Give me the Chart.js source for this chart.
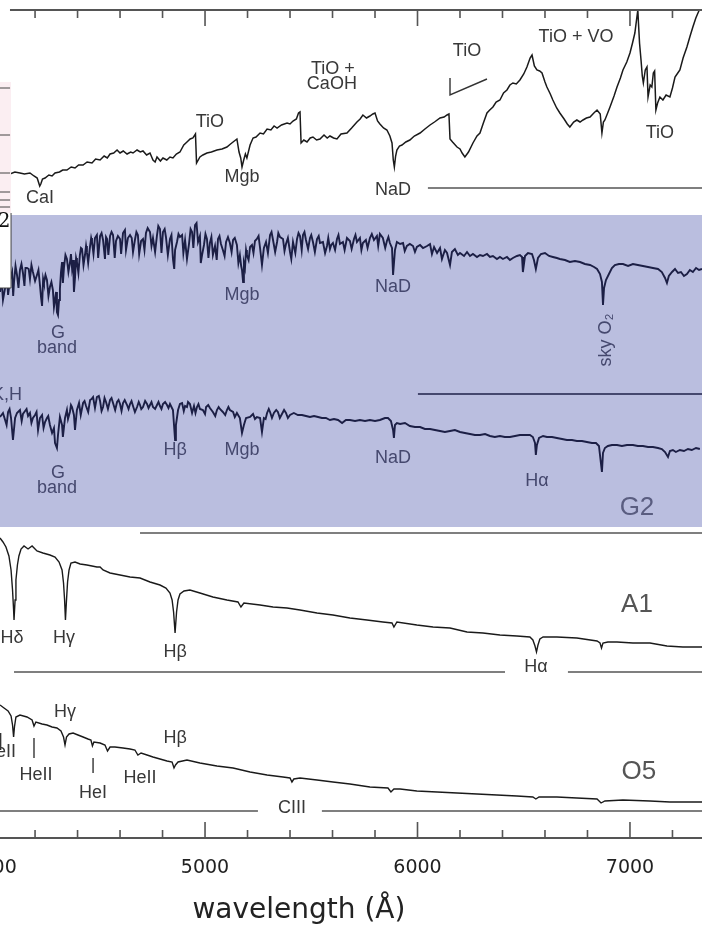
<!DOCTYPE html>
<html>
<head>
<meta charset="utf-8">
<script src="https://cdn.jsdelivr.net/npm/chart.js@4.4.1/dist/chart.umd.min.js"></script>
<style>
  html, body { margin: 0; padding: 0; background: #fff; }
  #wrap { width: 702px; height: 930px; position: relative; }
</style>
</head>
<body>
<div id="wrap"><canvas id="spectra"></canvas></div>
<script>
// wavelength range shown (Angstrom) and offset-flux range
var waveMin = 4035;
var waveMax = 7339;
var fluxMin = 0;
var fluxMax = 82.8;

var majorTicks = [4000, 5000, 6000, 7000];
var minorTicks = [4200, 4400, 4600, 4800, 5200, 5400, 5600, 5800, 6200, 6400, 6600, 6800, 7200];

// spectra: [wavelength, offset flux]
var mStar = [[4035,66.5],[4060,66.6],[4082,66.4],[4105,66.6],[4129,66.5],[4150,66.4],[4176,66.5],[4195,66.2],[4210,66.0],[4222,65.2],[4227,65.4],[4235,65.9],[4247,66.0],[4265,66.3],[4280,66.2],[4294,66.5],[4315,66.6],[4330,66.8],[4350,66.8],[4370,67.1],[4388,67.0],[4405,67.3],[4426,67.3],[4445,67.6],[4468,67.5],[4485,67.9],[4506,67.8],[4525,68.2],[4540,68.0],[4553,68.4],[4570,68.5],[4586,68.8],[4600,68.5],[4615,68.7],[4633,68.4],[4650,68.6],[4661,68.5],[4680,68.8],[4695,68.6],[4708,68.7],[4725,68.3],[4741,68.5],[4755,67.8],[4765,67.6],[4774,68.1],[4790,67.7],[4802,68.0],[4820,67.8],[4835,68.1],[4849,68.0],[4865,68.4],[4882,68.6],[4900,69.3],[4915,69.6],[4930,69.9],[4943,70.0],[4955,70.4],[4960,67.5],[4976,68.1],[4990,68.3],[5009,68.5],[5030,68.6],[5056,68.8],[5080,68.9],[5103,69.1],[5120,69.4],[5132,69.6],[5150,69.9],[5160,68.6],[5168,68.0],[5174,67.1],[5182,67.8],[5190,68.4],[5197,68.0],[5212,69.3],[5226,70.0],[5240,70.1],[5259,70.5],[5275,70.4],[5292,70.9],[5310,70.8],[5325,71.2],[5339,71.0],[5360,71.3],[5386,71.5],[5400,71.4],[5414,71.7],[5430,71.9],[5440,72.5],[5447,72.6],[5452,69.5],[5465,69.8],[5480,69.6],[5495,70.0],[5508,70.1],[5525,69.8],[5541,69.9],[5560,70.3],[5575,70.0],[5588,70.2],[5605,70.0],[5621,69.9],[5640,70.4],[5668,70.5],[5690,71.0],[5715,71.6],[5730,71.9],[5743,72.3],[5760,72.0],[5776,72.2],[5790,72.4],[5800,72.5],[5812,71.7],[5823,71.4],[5840,71.0],[5856,70.8],[5870,70.2],[5880,69.5],[5886,67.8],[5891,67.1],[5897,68.2],[5903,68.8],[5915,69.2],[5927,69.3],[5945,69.6],[5964,69.8],[5985,70.2],[6012,70.5],[6035,70.9],[6059,71.3],[6080,71.6],[6106,72.0],[6125,72.1],[6139,72.3],[6148,72.4],[6153,69.9],[6165,69.6],[6186,69.1],[6200,68.9],[6210,68.5],[6223,68.1],[6240,68.6],[6261,69.5],[6280,70.2],[6294,70.5],[6310,71.5],[6327,72.5],[6340,72.8],[6355,73.1],[6370,73.6],[6388,73.8],[6405,74.5],[6421,74.8],[6435,75.3],[6449,75.5],[6465,75.4],[6482,75.8],[6500,76.4],[6515,77.1],[6530,78.0],[6539,78.3],[6550,77.2],[6562,76.8],[6575,76.7],[6586,76.5],[6600,75.6],[6609,75.1],[6625,74.4],[6637,73.8],[6655,73.0],[6670,72.5],[6690,71.9],[6705,71.4],[6717,71.1],[6735,71.6],[6750,71.8],[6765,71.6],[6779,71.8],[6795,72.0],[6812,72.1],[6830,72.5],[6845,72.8],[6860,72.4],[6868,70.5],[6875,71.6],[6882,71.8],[6895,72.5],[6906,73.1],[6925,74.2],[6939,75.1],[6955,76.0],[6967,76.8],[6985,77.6],[7000,78.5],[7012,79.5],[7023,80.5],[7032,82.0],[7037,82.8],[7040,81.5],[7045,79.5],[7052,77.8],[7058,76.2],[7063,75.5],[7072,76.8],[7080,77.1],[7085,74.1],[7095,75.3],[7103,75.1],[7110,76.5],[7116,76.7],[7122,72.8],[7130,73.5],[7141,74.1],[7155,73.8],[7170,74.3],[7188,74.1],[7200,75.0],[7212,76.1],[7225,76.5],[7235,76.8],[7250,78.0],[7268,79.1],[7283,80.2],[7296,81.1],[7310,82.0],[7320,82.5],[7339,83.4]];

var kStar = [[4035,54.6],[4042,56.0],[4049,53.8],[4059,55.0],[4066,56.8],[4073,54.3],[4082,55.8],[4092,56.6],[4097,54.2],[4101,55.6],[4108,57.2],[4115,56.3],[4122,55.0],[4129,56.8],[4136,57.4],[4143,56.5],[4150,55.2],[4155,57.0],[4162,57.0],[4170,56.9],[4176,55.9],[4183,57.3],[4190,56.6],[4200,55.7],[4209,56.3],[4216,56.8],[4223,55.3],[4228,54.1],[4233,53.2],[4238,55.9],[4242,55.5],[4249,56.3],[4256,55.8],[4263,54.2],[4270,55.1],[4277,55.6],[4284,54.8],[4289,53.1],[4294,53.8],[4299,54.6],[4303,52.6],[4308,52.3],[4313,53.8],[4317,54.9],[4322,56.6],[4327,57.6],[4331,55.5],[4336,57.0],[4343,58.3],[4350,57.9],[4357,56.6],[4364,57.5],[4369,58.4],[4374,57.0],[4379,57.8],[4383,54.6],[4388,56.0],[4393,58.0],[4397,57.6],[4404,56.5],[4411,58.3],[4416,59.0],[4421,58.9],[4428,57.3],[4435,58.3],[4440,59.2],[4444,58.6],[4450,57.5],[4459,59.2],[4464,60.0],[4468,59.6],[4475,58.4],[4482,60.0],[4491,60.3],[4497,58.0],[4506,60.2],[4513,60.5],[4520,59.8],[4529,57.9],[4534,60.1],[4539,59.9],[4545,58.3],[4553,60.2],[4560,60.6],[4567,60.3],[4575,58.0],[4581,59.7],[4590,60.2],[4600,59.9],[4605,58.4],[4614,60.5],[4623,60.8],[4628,58.8],[4637,60.0],[4647,60.3],[4655,60.0],[4661,58.6],[4670,59.8],[4677,60.6],[4684,60.3],[4690,58.4],[4699,59.7],[4708,59.9],[4715,58.8],[4722,60.5],[4730,61.0],[4741,60.6],[4748,59.2],[4755,60.0],[4765,58.6],[4774,60.3],[4780,61.2],[4788,60.9],[4795,58.5],[4802,60.6],[4810,60.9],[4816,60.1],[4825,58.3],[4835,59.9],[4842,60.3],[4849,57.9],[4855,56.9],[4859,58.8],[4868,59.6],[4875,60.4],[4882,60.1],[4892,60.3],[4898,58.5],[4906,59.8],[4915,57.9],[4924,59.3],[4932,60.9],[4939,60.6],[4945,59.0],[4953,61.3],[4960,61.5],[4967,59.6],[4976,60.2],[4980,57.5],[4986,58.3],[4995,59.3],[5002,60.4],[5009,59.9],[5016,58.0],[5023,59.5],[5030,60.1],[5037,58.3],[5047,59.2],[5055,57.8],[5061,59.9],[5068,60.2],[5075,59.4],[5084,58.8],[5092,58.2],[5099,59.6],[5108,60.1],[5117,59.5],[5125,58.6],[5132,59.8],[5140,60.0],[5150,59.3],[5157,57.5],[5164,58.3],[5170,57.2],[5174,56.8],[5179,55.6],[5183,57.5],[5188,57.0],[5193,58.8],[5197,58.3],[5205,57.8],[5212,59.1],[5221,59.3],[5228,58.5],[5235,59.7],[5244,59.9],[5252,60.2],[5259,59.0],[5268,57.3],[5277,59.0],[5287,59.6],[5296,58.5],[5306,60.3],[5313,60.6],[5320,59.8],[5330,58.6],[5339,59.6],[5345,60.5],[5353,60.1],[5367,59.9],[5374,58.7],[5381,59.4],[5390,60.0],[5400,58.6],[5406,57.9],[5414,59.6],[5425,58.5],[5433,59.9],[5440,60.5],[5447,60.2],[5455,58.8],[5461,60.3],[5468,60.6],[5475,59.8],[5485,58.9],[5494,60.0],[5500,60.3],[5508,59.6],[5517,58.6],[5527,59.9],[5535,60.2],[5541,59.5],[5555,59.6],[5565,58.5],[5574,59.2],[5580,60.0],[5588,58.9],[5594,59.3],[5602,59.5],[5612,58.8],[5621,59.9],[5628,60.3],[5635,59.4],[5649,59.6],[5657,58.8],[5668,60.0],[5682,59.7],[5690,58.9],[5701,59.9],[5708,60.3],[5715,59.6],[5729,60.0],[5736,58.8],[5743,59.5],[5757,59.8],[5765,59.0],[5776,60.0],[5785,60.4],[5795,59.8],[5809,60.2],[5815,59.2],[5823,60.4],[5837,60.0],[5848,59.0],[5856,59.7],[5863,60.1],[5870,59.5],[5880,59.0],[5885,56.3],[5894,58.8],[5903,59.6],[5918,59.4],[5932,59.5],[5940,58.7],[5950,59.2],[5964,59.4],[5979,59.2],[5988,58.6],[5997,59.1],[6012,59.3],[6026,59.0],[6045,59.2],[6059,59.4],[6068,58.4],[6078,59.1],[6092,58.5],[6106,59.0],[6115,57.9],[6129,58.8],[6139,58.5],[6153,57.3],[6162,58.6],[6176,58.9],[6190,58.3],[6200,58.5],[6219,58.2],[6233,58.6],[6247,58.2],[6261,58.4],[6280,58.1],[6294,58.3],[6308,58.2],[6327,58.4],[6341,58.1],[6355,58.2],[6374,57.9],[6388,58.1],[6402,57.9],[6421,58.1],[6435,57.8],[6449,58.0],[6468,58.2],[6482,58.3],[6492,58.1],[6496,56.6],[6506,58.2],[6520,58.5],[6539,58.4],[6548,57.8],[6557,56.9],[6567,58.0],[6581,58.4],[6600,58.5],[6619,58.2],[6637,58.1],[6656,58.0],[6670,57.9],[6694,57.8],[6717,57.6],[6741,57.7],[6765,57.6],[6788,57.4],[6812,57.3],[6831,57.1],[6845,56.9],[6859,56.4],[6868,55.6],[6873,53.3],[6878,55.0],[6887,55.8],[6901,56.4],[6915,57.0],[6929,57.3],[6948,57.4],[6967,57.4],[6991,57.2],[7014,57.4],[7037,57.3],[7061,57.2],[7085,57.1],[7108,57.0],[7132,56.9],[7150,56.6],[7165,56.0],[7174,55.5],[7183,56.2],[7198,56.6],[7212,56.9],[7226,56.5],[7240,56.6],[7254,56.2],[7268,56.4],[7282,56.8],[7296,56.6],[7311,57.0],[7325,56.8],[7339,56.9]];

var g2Star = [[4035,42.1],[4049,42.5],[4059,41.8],[4066,41.3],[4073,42.6],[4080,42.9],[4087,42.0],[4096,39.8],[4106,42.0],[4115,42.5],[4129,42.8],[4137,41.7],[4143,42.4],[4153,42.7],[4160,42.9],[4167,42.2],[4176,42.5],[4183,41.5],[4190,42.0],[4200,42.3],[4207,42.6],[4214,40.8],[4223,42.0],[4233,42.3],[4240,41.0],[4247,41.6],[4256,42.0],[4262,42.2],[4270,41.3],[4280,40.5],[4289,41.0],[4294,39.5],[4303,39.0],[4308,40.3],[4317,42.1],[4327,41.3],[4331,40.1],[4341,42.0],[4350,42.8],[4355,41.9],[4364,42.6],[4369,43.3],[4374,43.1],[4383,42.3],[4388,40.8],[4397,42.8],[4407,43.5],[4415,42.3],[4426,43.5],[4433,43.7],[4440,43.2],[4450,42.6],[4459,43.8],[4466,43.9],[4473,44.1],[4482,43.0],[4491,44.1],[4500,44.2],[4506,43.7],[4513,42.7],[4520,43.1],[4527,44.0],[4534,43.6],[4543,42.9],[4553,43.8],[4560,44.0],[4567,43.5],[4577,42.8],[4586,43.6],[4593,43.8],[4600,43.4],[4607,42.7],[4614,43.5],[4622,43.8],[4633,43.3],[4640,42.9],[4647,43.4],[4654,43.7],[4661,43.2],[4670,42.6],[4680,43.1],[4688,43.6],[4694,43.3],[4700,42.9],[4708,43.1],[4718,43.7],[4727,43.4],[4734,43.0],[4741,43.3],[4748,43.6],[4755,43.1],[4765,42.9],[4774,43.3],[4781,43.6],[4788,43.2],[4795,42.9],[4802,43.4],[4812,43.6],[4821,43.3],[4828,43.0],[4835,43.4],[4849,42.8],[4859,39.8],[4863,41.3],[4873,42.8],[4882,43.4],[4892,43.5],[4900,42.7],[4906,43.2],[4915,43.1],[4920,43.6],[4929,43.4],[4939,42.5],[4948,43.2],[4955,42.5],[4962,43.1],[4969,43.4],[4976,42.9],[4990,42.8],[5000,42.4],[5005,43.1],[5015,43.3],[5023,43.0],[5037,42.6],[5048,42.2],[5056,42.8],[5064,43.1],[5070,42.9],[5084,42.6],[5095,42.3],[5103,42.8],[5110,43.1],[5117,42.8],[5132,42.6],[5140,42.1],[5150,42.5],[5164,42.0],[5174,40.5],[5183,41.3],[5193,42.0],[5212,42.1],[5226,42.4],[5235,41.9],[5244,42.1],[5259,42.0],[5268,40.6],[5277,42.0],[5285,41.9],[5292,42.5],[5300,42.9],[5306,42.6],[5315,42.0],[5324,42.5],[5335,42.8],[5343,42.6],[5352,42.0],[5362,42.4],[5372,42.8],[5381,42.5],[5390,42.0],[5400,42.3],[5418,42.5],[5437,42.3],[5456,42.3],[5475,42.2],[5494,42.1],[5513,42.2],[5532,42.1],[5550,42.0],[5569,42.0],[5588,41.8],[5607,41.9],[5626,41.8],[5645,41.5],[5663,41.8],[5682,41.8],[5706,41.7],[5729,41.8],[5753,41.7],[5776,41.8],[5800,41.7],[5823,41.8],[5847,42.0],[5861,42.0],[5875,41.7],[5885,40.8],[5889,40.0],[5894,41.3],[5903,41.5],[5918,41.4],[5941,41.5],[5964,41.2],[5988,41.1],[6012,41.1],[6035,40.9],[6059,40.9],[6082,40.8],[6106,40.7],[6129,40.6],[6153,40.7],[6176,40.8],[6200,40.6],[6223,40.5],[6247,40.4],[6270,40.3],[6294,40.3],[6318,40.4],[6341,40.2],[6364,40.1],[6388,40.2],[6411,40.1],[6435,40.1],[6459,40.2],[6482,40.3],[6506,40.3],[6529,40.3],[6543,40.1],[6553,39.5],[6557,38.3],[6562,39.3],[6572,40.0],[6591,40.2],[6609,40.1],[6633,40.1],[6656,40.0],[6680,39.9],[6703,39.8],[6727,39.8],[6750,39.7],[6774,39.7],[6797,39.6],[6821,39.5],[6840,39.5],[6854,39.2],[6868,36.6],[6873,38.5],[6882,39.0],[6896,39.2],[6915,39.3],[6939,39.3],[6962,39.2],[6986,39.3],[7014,39.3],[7037,39.2],[7061,39.2],[7085,39.1],[7108,39.1],[7132,39.0],[7150,38.9],[7165,38.6],[7179,38.1],[7188,38.7],[7202,38.8],[7216,38.6],[7235,38.8],[7254,38.7],[7273,38.9],[7291,38.8],[7311,39.0],[7329,38.9]];

var a1Star = [[4035,30.0],[4049,29.6],[4063,29.1],[4077,28.2],[4087,26.8],[4094,24.8],[4099,22.8],[4101,21.8],[4106,23.8],[4110,25.8],[4117,27.3],[4124,28.2],[4134,28.9],[4148,29.2],[4167,28.9],[4186,29.2],[4209,28.7],[4237,28.5],[4270,28.3],[4294,28.1],[4313,27.6],[4327,26.8],[4334,25.5],[4339,23.8],[4343,21.8],[4348,23.8],[4353,25.6],[4360,26.8],[4369,27.5],[4388,27.6],[4412,27.4],[4444,27.3],[4468,27.2],[4491,27.1],[4506,27.1],[4520,26.8],[4553,26.5],[4600,26.3],[4647,26.1],[4694,26.0],[4741,25.6],[4788,25.3],[4816,25.0],[4835,24.5],[4845,23.8],[4852,22.6],[4859,20.5],[4866,22.6],[4873,23.8],[4882,24.4],[4901,24.7],[4929,24.8],[4976,24.5],[5037,24.1],[5103,23.8],[5155,23.6],[5169,23.1],[5183,23.5],[5259,23.3],[5320,23.1],[5386,23.0],[5447,22.8],[5527,22.5],[5602,22.3],[5682,22.0],[5762,21.8],[5837,21.6],[5880,21.5],[5889,21.1],[5903,21.6],[5997,21.3],[6073,21.1],[6153,21.0],[6233,20.6],[6308,20.5],[6388,20.3],[6468,20.2],[6529,20.1],[6543,19.8],[6553,19.2],[6560,18.6],[6567,19.3],[6576,19.9],[6591,20.1],[6656,20.1],[6750,20.0],[6845,19.7],[6859,19.5],[6866,19.0],[6873,19.5],[6896,19.6],[6939,19.6],[7014,19.5],[7094,19.5],[7174,19.2],[7249,19.1],[7339,19.1]];

var o5Star = [[4035,13.3],[4054,13.0],[4073,12.7],[4087,12.2],[4094,11.3],[4099,10.1],[4103,11.1],[4110,12.1],[4129,12.3],[4162,12.1],[4186,11.8],[4195,11.2],[4204,11.6],[4233,11.4],[4256,11.3],[4280,11.1],[4303,11.0],[4322,10.7],[4334,10.1],[4341,9.3],[4348,10.1],[4360,10.4],[4379,10.5],[4402,10.3],[4426,10.1],[4449,9.9],[4463,9.8],[4470,9.2],[4477,9.6],[4506,9.5],[4529,9.3],[4541,8.7],[4553,9.1],[4576,9.1],[4614,9.0],[4647,8.9],[4670,8.8],[4684,8.3],[4699,8.5],[4727,8.3],[4755,8.1],[4788,7.9],[4821,7.7],[4845,7.6],[4854,7.0],[4861,7.3],[4873,7.6],[4915,7.8],[4976,7.5],[5056,7.2],[5132,7.0],[5212,6.6],[5292,6.3],[5367,6.1],[5400,6.0],[5409,5.6],[5418,5.9],[5447,6.0],[5527,5.8],[5602,5.6],[5682,5.4],[5776,5.1],[5861,5.0],[5875,4.6],[5889,4.9],[5918,4.9],[5997,4.7],[6092,4.6],[6186,4.5],[6280,4.4],[6374,4.3],[6468,4.2],[6543,4.1],[6557,3.9],[6572,4.1],[6656,4.1],[6750,4.0],[6845,3.9],[6864,3.5],[6882,3.7],[6967,3.8],[7094,3.7],[7188,3.6],[7339,3.6]];

// shaded panel behind the two solar-type spectra
var bandTop = 62.3;
var bandBottom = 31.1;

// zero lines under each spectrum
var baselines = [
  { from: 6049, to: 7339, flux: 65.0, inBand: false },
  { from: 6002, to: 7339, flux: 44.4, inBand: true },
  { from: 4694, to: 7339, flux: 30.5, inBand: false },
  { from: 4101, to: 6412, flux: 16.6, inBand: false },
  { from: 6708, to: 7339, flux: 16.6, inBand: false },
  { from: 4035, to: 5249, flux: 2.7, inBand: false },
  { from: 5550, to: 7339, flux: 2.7, inBand: false }
];

// little marker strokes
var markers = [
  [[6153, 76.0], [6153, 74.3], [6327, 75.9]],
  [[4038, 10.5], [4038, 8.8]],
  [[4195, 10.0], [4195, 8.0]],
  [[4473, 8.0], [4473, 6.5]]
];

var featureLabels = [
  { text: 'CaI', wave: 4223, flux: 64.0 },
  { text: 'TiO', wave: 5023, flux: 71.6 },
  { text: 'Mgb', wave: 5174, flux: 66.1 },
  { text: 'TiO +', wave: 5602, flux: 76.9 },
  { text: 'CaOH', wave: 5597, flux: 75.4 },
  { text: 'NaD', wave: 5885, flux: 64.8 },
  { text: 'TiO', wave: 6233, flux: 78.7 },
  { text: 'TiO + VO', wave: 6746, flux: 80.1 },
  { text: 'TiO', wave: 7141, flux: 70.5 },
  { text: 'G', wave: 4308, flux: 50.5, inBand: true },
  { text: 'band', wave: 4303, flux: 49.0, inBand: true },
  { text: 'Mgb', wave: 5174, flux: 54.3, inBand: true },
  { text: 'NaD', wave: 5885, flux: 55.1, inBand: true },
  { text: 'K,H', wave: 4139, flux: 44.3, inBand: true, align: 'right' },
  { text: 'G', wave: 4308, flux: 36.5, inBand: true },
  { text: 'band', wave: 4303, flux: 35.0, inBand: true },
  { text: 'H\u03b2', wave: 4859, flux: 38.8, inBand: true },
  { text: 'Mgb', wave: 5174, flux: 38.8, inBand: true },
  { text: 'NaD', wave: 5885, flux: 38.0, inBand: true },
  { text: 'H\u03b1', wave: 6562, flux: 35.7, inBand: true },
  { text: 'H\u03b4', wave: 4092, flux: 20.0 },
  { text: 'H\u03b3', wave: 4336, flux: 20.0 },
  { text: 'H\u03b2', wave: 4859, flux: 18.6 },
  { text: 'H\u03b1', wave: 6557, flux: 17.1 },
  { text: 'H\u03b3', wave: 4341, flux: 12.6 },
  { text: 'H\u03b2', wave: 4859, flux: 10.0 },
  { text: 'HeII', wave: 4110, flux: 8.6, align: 'right' },
  { text: 'HeII', wave: 4204, flux: 6.3 },
  { text: 'HeI', wave: 4473, flux: 4.5 },
  { text: 'HeII', wave: 4694, flux: 6.0 },
  { text: 'CIII', wave: 5409, flux: 3.0 }
];

var typeLabels = [
  { text: 'G2', wave: 7033, flux: 33.0, inBand: true },
  { text: 'A1', wave: 7033, flux: 23.3 },
  { text: 'O5', wave: 7042, flux: 6.6 }
];

var bandColor = '#babedf';
var inkColor = '#1a1a1a';
var bandInk = '#1c1f45';
var labelColor = '#383838';
var bandLabelColor = '#45486e';

function toPoints(pairs) {
  return pairs.map(function(p) { return { x: p[0], y: p[1] }; });
}

function spectrumSet(pairs, color, width) {
  return {
    data: toPoints(pairs),
    borderColor: color,
    borderWidth: width,
    pointRadius: 0,
    tension: 0,
    fill: false
  };
}

var decor = {
  id: 'decor',
  beforeDraw: function(chart) {
    var ctx = chart.ctx;
    ctx.save();
    ctx.fillStyle = '#ffffff';
    ctx.fillRect(0, 0, chart.width, chart.height);
    ctx.restore();
  },
  beforeDatasetsDraw: function(chart) {
    var ctx = chart.ctx;
    var ys = chart.scales.y;
    var top = ys.getPixelForValue(bandTop);
    var bottom = ys.getPixelForValue(bandBottom);
    ctx.save();
    ctx.fillStyle = bandColor;
    ctx.fillRect(0, top, chart.width, bottom - top);
    ctx.restore();
  },
  afterDatasetsDraw: function(chart) {
    var ctx = chart.ctx;
    var xs = chart.scales.x, ys = chart.scales.y;
    var area = chart.chartArea;
    ctx.save();

    // baselines
    baselines.forEach(function(b) {
      ctx.beginPath();
      ctx.strokeStyle = b.inBand ? '#45486e' : '#555555';
      ctx.lineWidth = b.inBand ? 2 : 1.6;
      var y = ys.getPixelForValue(b.flux);
      ctx.moveTo(xs.getPixelForValue(b.from), y);
      ctx.lineTo(xs.getPixelForValue(b.to), y);
      ctx.stroke();
    });

    // markers
    ctx.strokeStyle = '#333333';
    ctx.lineWidth = 1.4;
    markers.forEach(function(m) {
      ctx.beginPath();
      m.forEach(function(p, i) {
        var px = xs.getPixelForValue(p[0]), py = ys.getPixelForValue(p[1]);
        if (i === 0) ctx.moveTo(px, py); else ctx.lineTo(px, py);
      });
      ctx.stroke();
    });

    // axes: frame lines top and bottom with inward ticks
    ctx.strokeStyle = '#555555';
    ctx.lineWidth = 2;
    ctx.beginPath();
    ctx.moveTo(xs.getPixelForValue(4082), area.top);
    ctx.lineTo(area.right, area.top);
    ctx.moveTo(area.left, area.bottom);
    ctx.lineTo(area.right, area.bottom);
    ctx.stroke();

    ctx.lineWidth = 1.6;
    ctx.beginPath();
    majorTicks.concat(minorTicks).forEach(function(t) {
      if (t < waveMin || t > waveMax) return;
      var len = majorTicks.indexOf(t) >= 0 ? 16 : 8;
      var x = xs.getPixelForValue(t);
      ctx.moveTo(x, area.top);
      ctx.lineTo(x, area.top + len);
      ctx.moveTo(x, area.bottom);
      ctx.lineTo(x, area.bottom - len);
    });
    ctx.stroke();

    // tick labels and axis title
    ctx.fillStyle = '#222222';
    ctx.textAlign = 'center';
    ctx.textBaseline = 'middle';
    ctx.font = '19px "DejaVu Sans"';
    majorTicks.forEach(function(t) {
      ctx.fillText(String(t), xs.getPixelForValue(t), area.bottom + 30);
    });
    ctx.font = '28px "DejaVu Sans"';
    ctx.fillText('wavelength (\u00c5)', xs.getPixelForValue(5442), area.bottom + 73);

    // feature labels
    ctx.font = '18px "Liberation Sans"';
    featureLabels.forEach(function(l) {
      ctx.fillStyle = l.inBand ? bandLabelColor : labelColor;
      ctx.textAlign = l.align || 'center';
      ctx.fillText(l.text, xs.getPixelForValue(l.wave), ys.getPixelForValue(l.flux));
    });

    // rotated sky O2 label
    ctx.save();
    ctx.translate(xs.getPixelForValue(6887), ys.getPixelForValue(49.8));
    ctx.rotate(-Math.PI / 2);
    ctx.fillStyle = bandLabelColor;
    ctx.textAlign = 'center';
    ctx.fillText('sky O\u2082', 0, 0);
    ctx.restore();

    // spectral type labels
    ctx.font = '26px "Liberation Sans"';
    ctx.textAlign = 'center';
    typeLabels.forEach(function(l) {
      ctx.fillStyle = l.inBand ? '#5a5d80' : '#555555';
      ctx.fillText(l.text, xs.getPixelForValue(l.wave), ys.getPixelForValue(l.flux));
    });

    // leftover inset at the left edge
    var bx0 = 0, bx1 = xs.getPixelForValue(4087);
    var pinkTop = ys.getPixelForValue(75.6), pinkBottom = ys.getPixelForValue(62.5);
    var whiteBottom = ys.getPixelForValue(55.0);
    ctx.fillStyle = '#fbeef2';
    ctx.fillRect(bx0, pinkTop, bx1 - bx0, pinkBottom - pinkTop);
    ctx.fillStyle = '#ffffff';
    ctx.fillRect(bx0, pinkBottom, bx1 - bx0, whiteBottom - pinkBottom);
    ctx.strokeStyle = '#444444';
    ctx.lineWidth = 1;
    ctx.beginPath();
    ctx.moveTo(bx1, pinkBottom);
    ctx.lineTo(bx1, whiteBottom);
    ctx.lineTo(bx0, whiteBottom);
    [75.0, 70.3, 66.5, 64.6, 63.8, 63.1].forEach(function(f) {
      var y = ys.getPixelForValue(f);
      ctx.moveTo(bx0, y);
      ctx.lineTo(bx1 - 1, y);
    });
    ctx.stroke();
    ctx.fillStyle = '#111111';
    ctx.font = '20px "DejaVu Serif"';
    ctx.textAlign = 'center';
    ctx.fillText('2', xs.getPixelForValue(4054), ys.getPixelForValue(61.6));

    ctx.restore();
  }
};

new Chart(document.getElementById('spectra'), {
  type: 'line',
  data: {
    datasets: [
      spectrumSet(mStar, inkColor, 1.5),
      spectrumSet(kStar, bandInk, 1.9),
      spectrumSet(g2Star, bandInk, 1.9),
      spectrumSet(a1Star, inkColor, 1.4),
      spectrumSet(o5Star, inkColor, 1.4)
    ]
  },
  options: {
    responsive: true,
    maintainAspectRatio: false,
    animation: false,
    events: [],
    layout: { padding: { top: 10, bottom: 92, left: 0, right: 0 } },
    plugins: {
      legend: { display: false },
      tooltip: { enabled: false }
    },
    scales: {
      x: { type: 'linear', min: waveMin, max: waveMax, display: false },
      y: { type: 'linear', min: fluxMin, max: fluxMax, display: false }
    }
  },
  plugins: [decor]
});
</script>
</body>
</html>
